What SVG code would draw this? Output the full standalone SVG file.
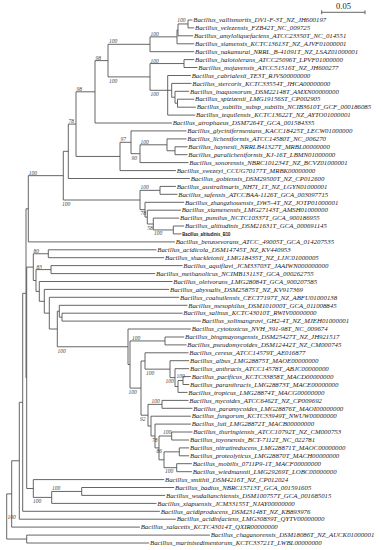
<svg xmlns="http://www.w3.org/2000/svg" width="381" height="550" viewBox="0 0 381 550">
<style>
.br{fill:none;stroke:#555;stroke-width:0.9}
.lf{font-family:"Liberation Serif","Times New Roman",serif;font-style:italic;font-size:6.8px;fill:#222}
.bs{font-family:"Liberation Serif","Times New Roman",serif;font-style:italic;font-size:5.5px;fill:#444}
.b10{font-family:"Liberation Sans",Arial,sans-serif;font-weight:bold;font-size:5.6px;fill:#111}
.sc{font-family:"Liberation Serif","Times New Roman",serif;font-size:8.5px;fill:#222}
</style>
<rect width="381" height="550" fill="#fff"/>
<g id="scale-bar">
<path class="br" d="M321.7 12.3H365M321.7 10.3V14.3M365 10.3V14.3"/>
<text class="sc" x="343.5" y="9.3" text-anchor="middle">0.05</text>
</g>
<g id="connectors">
<path class="br" d="
M188 20V27.9M188 20H192.5M188 27.9H194.2
M178 23.95V35.8M178 23.95H188M178 35.8H193.2
M177 29.9V43.8M177 29.9H178M177 43.8H194.2
M150 36.85V51.7M150 36.85H177M150 51.7H194.2
M184 59.6V67.5M184 59.6H194.2M184 67.5H197.5
M177.5 99.2V107.2M177.5 99.2H194.2M177.5 107.2H195.9
M175 91.3V103.2M175 91.3H189.2M175 103.2H177.5
M171.7 83.4V97.25M171.7 83.4H191.5M171.7 97.25H175
M167.7 75.5V115.1M167.7 75.5H190.9M167.7 90.3H171.7M167.7 115.1H195.2
M150 63.55V90.3M150 63.55H184M150 90.3H167.7
M108 44.3V76.9M108 44.3H150M108 76.9H150
M95 60.6V123M95 60.6H108M95 123H171.9
M175 146.8V154.7M175 146.8H187.5M175 154.7H187.5
M167 138.9V150.75M167 138.9H186.5M167 150.75H175
M140 144.8V162.6M140 144.8H167M140 162.6H188.5
M131 130.9V153.7M131 130.9H186.5M131 153.7H140
M120 142.3V170.6M120 142.3H131M120 170.6H175.9
M76 91.8V156.45M76 91.8H95M76 156.45H120
M68.3 124.1V178.5M68.3 124.1H76M68.3 178.5H189.9
M160 186.4V194.3M160 186.4H175.9M160 194.3H177.5
M173.3 226V233.9M173.3 226H184.2M173.3 233.9H181.5
M153.3 218.1V229.95M153.3 218.1H179.2M153.3 229.95H173.3
M147.3 210.2V224M147.3 210.2H180.9M147.3 224H153.3
M145 202.3V217.1M145 202.3H184.2M145 217.1H147.3
M140 190.35V209.7M140 190.35H160M140 209.7H145
M63.3 151.3V200M63.3 151.3H68.3M63.3 200H140
M28.3 175.65V241.9M28.3 175.65H63.3M28.3 241.9H174.9
M48.3 249.8V257.7M48.3 249.8H156.5M48.3 257.7H164.2
M51 265.6V273.6M51 265.6H182.5M51 273.6H155.2
M62 313.2V321.1M62 313.2H182.5M62 321.1H200.9
M59.3 305.3V317.15M59.3 305.3H187.5M59.3 317.15H62
M57.3 311.2V346.75M57.3 311.2H59.3M57.3 346.75H128
M49.3 297.3V329M49.3 297.3H179.2M49.3 329H57.3
M44.3 289.4V313.15M44.3 289.4H169.2M44.3 313.15H49.3
M39.3 281.5V301.3M39.3 281.5H172.5M39.3 301.3H44.3
M36 269.6V291.4M36 269.6H51M36 291.4H39.3
M33.3 253.75V280.5M33.3 253.75H48.3M33.3 280.5H36
M165 337V344.9M165 337H184.2M165 344.9H186.5
M183 376.6V384.5M183 376.6H190.9M183 384.5H189.2
M178 380.55V392.4M178 380.55H183M178 392.4H187.5
M175 368.7V386.5M175 368.7H189.2M175 386.5H178
M170 360.7V377.6M170 360.7H189.2M170 377.6H175
M145 352.8V369.15M145 352.8H188.5M145 369.15H170
M162 400.4V408.3M162 400.4H188.5M162 408.3H192.5
M171.7 432V440M171.7 432H192.5M171.7 440H189.2
M179.3 447.9V455.8M179.3 447.9H189.2M179.3 455.8H189.2
M176.7 463.7V471.7M176.7 463.7H191.9M176.7 471.7H191.9
M164 451.85V467.7M164 451.85H179.3M164 467.7H176.7
M159 436V459.8M159 436H171.7M159 459.8H164
M155 424.1V447.9M155 424.1H190.9M155 447.9H159
M151 416.2V436M151 416.2H190.9M151 436H155
M148 404.35V426.1M148 404.35H162M148 426.1H151
M141 361V415.2M141 361H145M141 415.2H148
M130 340.95V388.1M130 340.95H165M130 388.1H141
M128 329V364.5M128 329H190.9M128 364.5H130
M81.7 487.5V495.4M81.7 487.5H174.2M81.7 495.4H165.2
M51.7 491.45V503.4M51.7 491.45H81.7M51.7 503.4H156.5
M33.3 479.6V497.4M33.3 479.6H164.2M33.3 497.4H51.7
M26.7 267.1V488.5M26.7 267.1H33.3M26.7 488.5H33.3
M26 208.8V377.8M26 208.8H28.3M26 377.8H26.7
M22.7 293.3V511.3M22.7 293.3H26M22.7 511.3H159.9
M19.3 402.3V519.2M19.3 402.3H22.7M19.3 519.2H175.9
M11.7 460.75V527.1M11.7 460.75H19.3M11.7 527.1H139.9
M26.7 535.1V543M26.7 535.1H209.9M26.7 543H149.2
M6.7 493.9V539.05M6.7 493.9H11.7M6.7 539.05H26.7"/>
</g>
<g id="bootstrap">
<text class="bs" x="177.3" y="22.3">100</text>
<text class="bs" x="150.5" y="35.9">100</text>
<text class="bs" x="109" y="43.4">100</text>
<text class="bs" x="150.5" y="62.6">100</text>
<text class="bs" x="150.5" y="95.8">100</text>
<text class="bs" x="109" y="83">100</text>
<text class="bs" x="95.5" y="59.7">98</text>
<text class="bs" x="76.5" y="90.9">98</text>
<text class="bs" x="68.5" y="123.2">78</text>
<text class="bs" x="120.5" y="141.4">97</text>
<text class="bs" x="140.5" y="143.9">100</text>
<text class="bs" x="131.5" y="159.8">90</text>
<text class="bs" x="28.8" y="174.7">100</text>
<text class="bs" x="62" y="206">100</text>
<text class="bs" x="140.5" y="189.4">100</text>
<text class="bs" x="140.5" y="214.9">78</text>
<text class="bs" x="147.3" y="229.8">58</text>
<text class="bs" x="154" y="234.9">100</text>
<text class="bs" x="33.5" y="252.8">80</text>
<text class="bs" x="36.5" y="268.7">83</text>
<text class="bs" x="57.5" y="352.8">100</text>
<text class="bs" x="132" y="339.6">100</text>
<text class="bs" x="146" y="374.8">100</text>
<text class="bs" x="165.5" y="383.2">100</text>
<text class="bs" x="176.5" y="377.5">100</text>
<text class="bs" x="128.5" y="394.2">100</text>
<text class="bs" x="151.5" y="403.4">100</text>
<text class="bs" x="140" y="421.2">92</text>
<text class="bs" x="163" y="434">100</text>
<text class="bs" x="152" y="441.6">78</text>
<text class="bs" x="156.5" y="452.5">86</text>
<text class="bs" x="165" y="472.7">100</text>
<text class="bs" x="52" y="489.6">100</text>
<text class="bs" x="33" y="502.9">100</text>
<text class="bs" x="7.5" y="518.5">100</text>
</g>
<g id="leaf-vallismortis"><text class="lf" x="193.3" y="22.2">Bacillus_vallismortis_DV1-F-3T_NZ_JH600197</text></g>
<g id="leaf-velezensis"><text class="lf" x="195" y="30.1">Bacillus_velezensis_FZB42T_NC_009725</text></g>
<g id="leaf-amyloliquefaciens"><text class="lf" x="194" y="38">Bacillus_amyloliquefaciens_ATCC23350T_NC_014551</text></g>
<g id="leaf-siamensis"><text class="lf" x="195" y="46">Bacillus_siamensis_KCTC13613T_NZ_AJVF01000001</text></g>
<g id="leaf-nakamurai"><text class="lf" x="195" y="53.9">Bacillus_nakamurai_NRRL_B-41091T_NZ_LSAZ01000001</text></g>
<g id="leaf-halotolerans"><text class="lf" x="195" y="61.8">Bacillus_halotolerans_ATCC25096T_LPVF01000000</text></g>
<g id="leaf-mojavensis"><text class="lf" x="198.3" y="69.7">Bacillus_mojavensis_ATCC51516T_NZ_JH600277</text></g>
<g id="leaf-cabrialesii"><text class="lf" x="191.7" y="77.7">Bacillus_cabrialesii_TE3T_RJVS00000000</text></g>
<g id="leaf-stercoris"><text class="lf" x="192.3" y="85.6">Bacillus_stercoris_KCTC33554T_JHCA00000000</text></g>
<g id="leaf-inaquosorum"><text class="lf" x="190" y="93.5">Bacillus_inaquosorum_DSM22148T_AMXN00000000</text></g>
<g id="leaf-spizizenii"><text class="lf" x="195" y="101.4">Bacillus_spizizenii_LMG19156ST_CP002905</text></g>
<g id="leaf-subtilis"><text class="lf" x="196.7" y="109.4">Bacillus_subtilis_subsp_subtilis_NCIB3610T_GCF_000186085</text></g>
<g id="leaf-tequilensis"><text class="lf" x="196" y="117.3">Bacillus_tequilensis_KCTC13622T_NZ_AYTO01000001</text></g>
<g id="leaf-atrophaeus"><text class="lf" x="172.7" y="125.2">Bacillus_atrophaeus_DSM7264T_GCA_001584335</text></g>
<g id="leaf-glycinifermentans"><text class="lf" x="187.3" y="133.1">Bacillus_glycinifermentans_KACC18425T_LECW01000000</text></g>
<g id="leaf-licheniformis"><text class="lf" x="187.3" y="141.1">Bacillus_licheniformis_ATCC14580T_NC_006270</text></g>
<g id="leaf-haynesii"><text class="lf" x="188.3" y="149">Bacillus_haynesii_NRRLB41327T_MRBL00000000</text></g>
<g id="leaf-paralicheniformis"><text class="lf" x="188.3" y="156.9">Bacillus_paralicheniformis_KJ-16T_LBMN01000000</text></g>
<g id="leaf-sonorensis"><text class="lf" x="189.3" y="164.8">Bacillus_sonorensis_NBRC101234T_NZ_BCVZ01000001</text></g>
<g id="leaf-swezeyi"><text class="lf" x="176.7" y="172.8">Bacillus_swezeyi_CCUG70177T_MRBK00000000</text></g>
<g id="leaf-gobiensis"><text class="lf" x="190.7" y="180.7">Bacillus_gobiensis_DSM29500T_NZ_CP012600</text></g>
<g id="leaf-australimaris"><text class="lf" x="176.7" y="188.6">Bacillus_australimaris_NH7I_1T_NZ_LGYN01000001</text></g>
<g id="leaf-safensis"><text class="lf" x="178.3" y="196.5">Bacillus_safensis_ATCCBAA-1126T_GCA_003097715</text></g>
<g id="leaf-zhangzhouensis"><text class="lf" x="185" y="204.5">Bacillus_zhangzhouensis_DW5-4T_NZ_JOTP01000001</text></g>
<g id="leaf-xiamenensis"><text class="lf" x="181.7" y="212.4">Bacillus_xiamenensis_LMG27143T_AMSH01000000</text></g>
<g id="leaf-pumilus"><text class="lf" x="180" y="220.3">Bacillus_pumilus_NCTC10337T_GCA_900186955</text></g>
<g id="leaf-altitudinis"><text class="lf" x="185" y="228.2">Bacillus_altitudinis_DSM21631T_GCA_000691145</text></g>
<g id="leaf-altitudinis-B10"><text class="b10" x="182.3" y="236.4" textLength="48" lengthAdjust="spacingAndGlyphs">Bacillus_altitudinis_B10</text></g>
<g id="leaf-benzoevorans"><text class="lf" x="175.7" y="244.1">Bacillus_benzoevorans_ATCC_49005T_GCA_014207535</text></g>
<g id="leaf-acidicola"><text class="lf" x="157.3" y="252">Bacillus_acidicola_DSM14745T_NZ_KV440953</text></g>
<g id="leaf-shackletonii"><text class="lf" x="165" y="259.9">Bacillus_shackletonii_LMG18435T_NZ_LJJC01000005</text></g>
<g id="leaf-aquiflavi"><text class="lf" x="183.3" y="267.8">Bacillus_aquiflavi_JCM33703T_JAAIWN000000000</text></g>
<g id="leaf-methanolicus"><text class="lf" x="156" y="275.8">Bacillus_methanolicus_NCIMB13113T_GCA_000262755</text></g>
<g id="leaf-oleivorans"><text class="lf" x="173.3" y="283.7">Bacillus_oleivorans_LMG28084T_GCA_900207585</text></g>
<g id="leaf-abyssalis"><text class="lf" x="170" y="291.6">Bacillus_abyssalis_DSM25875T_NZ_KV917369</text></g>
<g id="leaf-coahuilensis"><text class="lf" x="180" y="299.5">Bacillus_coahuilensis_CECT7197T_NZ_ABFU01000138</text></g>
<g id="leaf-mesophilus"><text class="lf" x="188.3" y="307.5">Bacillus_mesophilus_DSM101000T_GCA_011008845</text></g>
<g id="leaf-salinus"><text class="lf" x="183.3" y="315.4">Bacillus_salinus_KCTC43010T_RWIV00000000</text></g>
<g id="leaf-solimangrovi"><text class="lf" x="201.7" y="323.3">Bacillus_solimangrovi_GH2-4T_NZ_MJEH01000001</text></g>
<g id="leaf-cytotoxicus"><text class="lf" x="191.7" y="331.2">Bacillus_cytotoxicus_NVH_391-98T_NC_009674</text></g>
<g id="leaf-bingmayongensis"><text class="lf" x="185" y="339.2">Bacillus_bingmayongensis_DSM25427T_NZ_JH921517</text></g>
<g id="leaf-pseudomycoides"><text class="lf" x="187.3" y="347.1">Bacillus_pseudomycoides_DSM12442T_NZ_CM000745</text></g>
<g id="leaf-cereus"><text class="lf" x="189.3" y="355">Bacillus_cereus_ATCC14579T_AE016877</text></g>
<g id="leaf-albus"><text class="lf" x="190" y="362.9">Bacillus_albus_LMG28875T_MAOE00000000</text></g>
<g id="leaf-anthracis"><text class="lf" x="190" y="370.9">Bacillus_anthracis_ATCC14578T_ABJC00000000</text></g>
<g id="leaf-pacificus"><text class="lf" x="191.7" y="378.8">Bacillus_pacificus_KCTC33858T_MACD00000000</text></g>
<g id="leaf-paranthracis"><text class="lf" x="190" y="386.7">Bacillus_paranthracis_LMG28873T_MACE00000000</text></g>
<g id="leaf-tropicus"><text class="lf" x="188.3" y="394.6">Bacillus_tropicus_LMG28874T_MACG00000000</text></g>
<g id="leaf-mycoides"><text class="lf" x="189.3" y="402.6">Bacillus_mycoides_ATCC6462T_NZ_CP009692</text></g>
<g id="leaf-paramycoides"><text class="lf" x="193.3" y="410.5">Bacillus_paramycoides_LMG28876T_MAOI00000000</text></g>
<g id="leaf-fungorum"><text class="lf" x="191.7" y="418.4">Bacillus_fungorum_KCTC33949T_NWUW00000000</text></g>
<g id="leaf-luti"><text class="lf" x="191.7" y="426.3">Bacillus_luti_LMG28872T_MACB00000000</text></g>
<g id="leaf-thuringiensis"><text class="lf" x="193.3" y="434.2">Bacillus_thuringiensis_ATCC10792T_NZ_CM000753</text></g>
<g id="leaf-toyonensis"><text class="lf" x="190" y="442.2">Bacillus_toyonensis_BCT-7112T_NC_022781</text></g>
<g id="leaf-nitratireducens"><text class="lf" x="190" y="450.1">Bacillus_nitratireducens_LMG28871T_MAOC00000000</text></g>
<g id="leaf-proteolyticus"><text class="lf" x="190" y="458">Bacillus_proteolyticus_LMG28870T_MACH00000000</text></g>
<g id="leaf-mobilis"><text class="lf" x="192.7" y="465.9">Bacillus_mobilis_0711P9-1T_MACF00000000</text></g>
<g id="leaf-wiedmannii"><text class="lf" x="192.7" y="473.9">Bacillus_wiedmannii_LMG29269T_LOBC00000000</text></g>
<g id="leaf-smithii"><text class="lf" x="165" y="481.8">Bacillus_smithii_DSM4216T_NZ_CP012024</text></g>
<g id="leaf-badius"><text class="lf" x="175" y="489.7">Bacillus_badius_NBRC15713T_GCA_001591605</text></g>
<g id="leaf-wudalianchiensis"><text class="lf" x="166" y="497.6">Bacillus_wudalianchiensis_DSM100757T_GCA_001685015</text></g>
<g id="leaf-xiapuensis"><text class="lf" x="157.3" y="505.6">Bacillus_xiapuensis_JCM33155T_NJAY00000000</text></g>
<g id="leaf-acidiproducens"><text class="lf" x="160.7" y="513.5">Bacillus_acidiproducens_DSM23148T_NZ_KB893976</text></g>
<g id="leaf-acidinfaciens"><text class="lf" x="176.7" y="521.4">Bacillus_acidinfaciens_LMG30839T_QYTV00000000</text></g>
<g id="leaf-salacetis"><text class="lf" x="140.7" y="529.3">Bacillus_salacetis_KCTC43014T_QXIR00000000</text></g>
<g id="leaf-chaganorensis"><text class="lf" x="210.7" y="537.3">Bacillus_chaganorensis_DSM18086T_NZ_AUCK01000001</text></g>
<g id="leaf-marinisedimentorum"><text class="lf" x="150" y="545.2">Bacillus_marinisedimentorum_KCTC33721T_LWBL00000000</text></g>
</svg>
